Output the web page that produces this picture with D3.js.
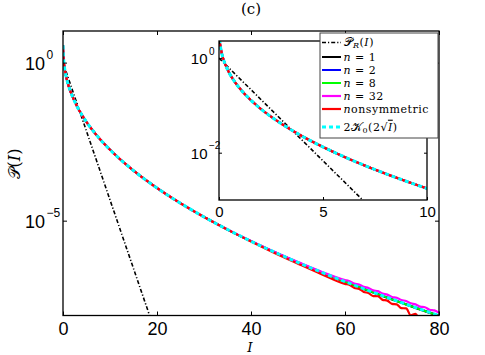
<!DOCTYPE html>
<html>
<head>
<meta charset="utf-8">
<script src="https://cdn.jsdelivr.net/npm/d3@7/dist/d3.min.js"></script>
<style>
  body { margin: 0; background: #fff; }
</style>
</head>
<body>
<svg id="chart" width="485" height="355"></svg>
<script>
// values (log scale, so read as decades)
const intensity = [0.01, 0.02, 0.05, 0.1, 0.2, 0.3, 0.5, 0.75, 1, 1.5, 2, 3, 4, 5, 6, 7, 8, 9, 10,
    12, 15, 20, 25, 30, 35, 40, 45, 50, 55, 60, 65, 70, 75, 80];
const kDist = [3.51, 2.85, 2.03, 1.48, 0.98, 0.736, 0.479, 0.318, 0.228, 0.133, 0.085, 0.0409, 0.0223,
    0.0132, 0.00825, 0.00537, 0.00361, 0.00249, 0.00175, 9.18e-4, 3.84e-4, 1.08e-4, 3.56e-5, 1.31e-5,
    5.24e-6, 2.24e-6, 1.01e-6, 4.77e-7, 2.33e-7, 1.18e-7, 6.15e-8, 3.29e-8, 1.79e-8, 1.0e-8];
const nOne = [3.51, 2.85, 2.03, 1.48, 0.98, 0.736, 0.479, 0.318, 0.228, 0.133, 0.085, 0.0409, 0.0223,
    0.0132, 0.00825, 0.00537, 0.00361, 0.00249, 0.00175, 9.18e-4, 3.84e-4, 1.08e-4, 3.56e-5, 1.31e-5,
    5.24e-6, 2.24e-6, 1.0e-6, 4.7e-7, 2.3e-7, 1.16e-7, 6.0e-8, 3.2e-8, 1.72e-8, 9.5e-9];
const nTwo = [3.51, 2.85, 2.03, 1.48, 0.98, 0.736, 0.479, 0.318, 0.228, 0.133, 0.085, 0.0409, 0.0223,
    0.0132, 0.00825, 0.00537, 0.00361, 0.00249, 0.00175, 9.18e-4, 3.84e-4, 1.08e-4, 3.56e-5, 1.31e-5,
    5.24e-6, 2.24e-6, 1.02e-6, 4.8e-7, 2.35e-7, 1.19e-7, 6.2e-8, 3.3e-8, 1.8e-8, 1.0e-8];
const nEight = [3.51, 2.85, 2.03, 1.48, 0.98, 0.736, 0.479, 0.318, 0.228, 0.133, 0.085, 0.0409, 0.0223,
    0.0132, 0.00825, 0.00537, 0.00361, 0.00249, 0.00175, 9.18e-4, 3.84e-4, 1.08e-4, 3.56e-5, 1.31e-5,
    5.24e-6, 2.24e-6, 1.01e-6, 4.75e-7, 2.32e-7, 1.17e-7, 6.1e-8, 3.25e-8, 1.76e-8, 9.8e-9];
// n = 32 and nonsymmetric up to I = 55, then the noisy tail below
const nThirtyTwo = [3.51, 2.85, 2.03, 1.48, 0.98, 0.736, 0.479, 0.318, 0.228, 0.133, 0.085, 0.0409,
    0.0223, 0.0132, 0.00825, 0.00537, 0.00361, 0.00249, 0.00175, 9.18e-4, 3.84e-4, 1.08e-4, 3.56e-5,
    1.31e-5, 5.26e-6, 2.26e-6, 1.02e-6, 4.9e-7, 2.42e-7];
const nonsym = [3.51, 2.85, 2.03, 1.48, 0.98, 0.736, 0.479, 0.318, 0.228, 0.133, 0.085, 0.0409,
    0.0223, 0.0132, 0.00825, 0.00537, 0.00361, 0.00249, 0.00175, 9.18e-4, 3.84e-4, 1.08e-4, 3.56e-5,
    1.3e-5, 5.2e-6, 2.19e-6, 9.5e-7, 4.35e-7, 2.03e-7];
const tailIntensity = [60, 61, 62, 63, 64, 65, 66, 67, 68, 69, 70, 71, 72, 73, 74, 75, 76, 77, 78, 79, 80];
const nThirtyTwoTail = [1.32e-7, 1.22e-7, 1.02e-7, 9.6e-8, 8.05e-8, 7.4e-8, 6.24e-8, 5.89e-8, 4.97e-8,
    4.58e-8, 3.86e-8, 3.66e-8, 3.1e-8, 2.88e-8, 2.43e-8, 2.25e-8, 1.91e-8, 1.83e-8, 1.52e-8, 1.45e-8, 1.23e-8];
const nonsymTail = [1.0e-7, 9.2e-8, 7.4e-8, 6.95e-8, 5.56e-8, 5.12e-8, 4.12e-8, 4.07e-8, 3.13e-8,
    2.96e-8, 2.33e-8, 2.26e-8, 1.7e-8, 1.69e-8, 1.01e-8, 1.13e-8, 7.1e-9, 8.0e-9, 4.5e-9, 5.0e-9, 3.2e-9];
const rayleighIntensity = [0, 5, 10, 15, 20];
const rayleigh = [1, 6.74e-3, 4.54e-5, 3.06e-7, 2.06e-9];

const mainXTicks = [0, 20, 40, 60, 80];
const mainYTicks = [1, 1e-5];
const insetXTicks = [0, 5, 10];
const insetYTicks = [1, 1e-2];
const legendLabels = ["PR", "n = 1", "n = 2", "n = 8", "n = 32", "nonsymmetric", "K0"];

const svg = d3.select("#chart");
const serif = "'DejaVu Serif', serif";
const sans = "'Liberation Sans', Arial, sans-serif";

const pairs = (xs, ys) => xs.map((x, i) => [x, ys[i]]);

const series = [
    { data: pairs(rayleighIntensity, rayleigh), color: "#000", width: 1.6, dash: "4,2,1.2,2", linear: true },
    { data: pairs(intensity, nOne), color: "#000", width: 2 },
    { data: pairs(intensity, nTwo), color: "#00f", width: 2 },
    { data: pairs(intensity, nEight), color: "#0f0", width: 2 },
    { data: pairs(intensity.slice(0, nThirtyTwo.length), nThirtyTwo).concat(pairs(tailIntensity, nThirtyTwoTail)), color: "#f0f", width: 2.2 },
    { data: pairs(intensity.slice(0, nonsym.length), nonsym).concat(pairs(tailIntensity, nonsymTail)), color: "#f00", width: 2.2 },
    { data: pairs(intensity, kDist), color: "#0ff", width: 3, dash: "4,3" }
];

function drawPanel(cfg) {
    let x = d3.scaleLinear().domain(cfg.xDomain).range([cfg.left, cfg.right]);
    let y = d3.scaleLog().domain(cfg.yDomain).range([cfg.bottom, cfg.top]);
    let g = svg.append("g");

    g.append("rect")
        .attr("x", cfg.left).attr("y", cfg.top)
        .attr("width", cfg.right - cfg.left).attr("height", cfg.bottom - cfg.top)
        .attr("fill", "#fff");

    let clipId = "clip-" + cfg.name;
    g.append("clipPath").attr("id", clipId)
        .append("rect")
        .attr("x", cfg.left).attr("y", cfg.top)
        .attr("width", cfg.right - cfg.left).attr("height", cfg.bottom - cfg.top);

    let curves = g.append("g").attr("clip-path", "url(#" + clipId + ")");
    series.forEach(s => {
        let line = d3.line()
            .x(d => x(d[0]))
            .y(d => y(d[1]))
            .curve(s.linear ? d3.curveLinear : d3.curveMonotoneX);
        curves.append("path")
            .attr("d", line(s.data.filter(d => d[0] <= cfg.xDomain[1] + 5)))
            .attr("fill", "none")
            .attr("stroke", s.color)
            .attr("stroke-width", s.width)
            .attr("stroke-dasharray", s.dash || null);
    });

    // ticks pointing inward on all four sides
    let t = cfg.tick;
    g.append("g").attr("transform", "translate(0," + cfg.bottom + ")")
        .call(d3.axisBottom(x).tickValues(cfg.xTicks).tickSizeInner(-t).tickSizeOuter(0).tickPadding(cfg.xPad))
        .call(a => a.select(".domain").remove())
        .call(a => a.selectAll("text").attr("font-family", sans).attr("font-size", cfg.font).attr("fill", "#000"));
    g.append("g").attr("transform", "translate(0," + cfg.top + ")")
        .call(d3.axisTop(x).tickValues(cfg.xTicks).tickSizeInner(-t).tickSizeOuter(0).tickFormat(""))
        .call(a => a.select(".domain").remove());
    let yl = g.append("g").attr("transform", "translate(" + cfg.left + ",0)")
        .call(d3.axisLeft(y).tickValues(cfg.yTicks).tickSizeInner(-t).tickSizeOuter(0).tickFormat(""))
        .call(a => a.select(".domain").remove());
    g.append("g").attr("transform", "translate(" + cfg.right + ",0)")
        .call(d3.axisRight(y).tickValues(cfg.yTicks).tickSizeInner(-t).tickSizeOuter(0).tickFormat(""))
        .call(a => a.select(".domain").remove());
    g.selectAll(".tick line").attr("stroke", "#000").attr("stroke-width", 1);

    // 10^k labels: base right-aligned, exponent raised after it
    yl.selectAll(".tick").each(function(v) {
        let e = Math.round(Math.log10(v));
        let label = d3.select(this).append("text")
            .attr("font-family", sans).attr("font-size", cfg.font).attr("fill", "#000")
            .attr("text-anchor", "start").attr("dy", "0.36em")
            .text("10");
        let w = label.node().getComputedTextLength();
        label.attr("x", -cfg.baseGap - w).text(null);
        label.append("tspan").text("10");
        label.append("tspan")
            .attr("font-size", cfg.expFont)
            .attr("dx", 1.5)
            .attr("dy", -(0.36 * cfg.font + cfg.expRise))
            .text(e < 0 ? "\u2212" + (-e) : String(e));
    });

    g.append("rect")
        .attr("x", cfg.left).attr("y", cfg.top)
        .attr("width", cfg.right - cfg.left).attr("height", cfg.bottom - cfg.top)
        .attr("fill", "none").attr("stroke", "#000").attr("stroke-width", 1.3);
}

drawPanel({
    name: "main", xDomain: [0, 80], yDomain: [1e-8, 10],
    left: 63, right: 439, top: 31, bottom: 315.5,
    xTicks: mainXTicks, yTicks: mainYTicks,
    tick: 4, xPad: 7, font: 18, expFont: 12, baseGap: 18, expRise: 4
});

drawPanel({
    name: "inset", xDomain: [0, 10], yDomain: [1e-3, 2.3],
    left: 219, right: 427, top: 41, bottom: 200,
    xTicks: insetXTicks, yTicks: insetYTicks,
    tick: 3, xPad: 6, font: 15, expFont: 10, baseGap: 11.5, expRise: 4
});

// title and axis labels
svg.append("text").attr("x", 251).attr("y", 14).attr("text-anchor", "middle")
    .attr("font-family", serif).attr("font-size", 15).text("(c)");
svg.append("text").attr("x", 250).attr("y", 351.6).attr("text-anchor", "middle")
    .attr("font-family", serif).attr("font-style", "italic").attr("font-size", 13.5).text("I");
let ylab = svg.append("text")
    .attr("transform", "translate(20,164) rotate(-90)")
    .attr("text-anchor", "middle")
    .attr("font-family", serif).attr("font-size", 16);
ylab.append("tspan").text("\u{1D4AB}");
ylab.append("tspan").text("(");
ylab.append("tspan").attr("font-style", "italic").text("I");
ylab.append("tspan").text(")");

// legend
let legend = svg.append("g");
legend.append("rect")
    .attr("x", 320).attr("y", 33).attr("width", 118).attr("height", 105)
    .attr("fill", "#fff").attr("stroke", "#444").attr("stroke-width", 1);

const rowY = [42.5, 57, 70, 83, 96, 109, 127];
legendLabels.forEach((label, i) => {
    let s = series[i];
    legend.append("line")
        .attr("x1", 322).attr("x2", 341).attr("y1", rowY[i]).attr("y2", rowY[i])
        .attr("stroke", s.color).attr("stroke-width", s.width)
        .attr("stroke-dasharray", s.dash || null);
    let txt = legend.append("text")
        .attr("x", 343.5).attr("y", rowY[i] + 3.7)
        .attr("font-family", serif).attr("font-size", 11)
        .attr("letter-spacing", 0.5);
    if (label === "PR") {
        txt.append("tspan").attr("font-size", 12).text("\u{1D4AB}");
        txt.append("tspan").attr("font-style", "italic").attr("font-size", 8).attr("dy", 1.5).text("R");
        txt.append("tspan").attr("dy", -1.5).text("(");
        txt.append("tspan").attr("font-style", "italic").text("I");
        txt.append("tspan").text(")");
    } else if (label === "K0") {
        txt.append("tspan").text("2");
        txt.append("tspan").attr("font-size", 12).text("\u{1D4A6}");
        txt.append("tspan").attr("font-size", 8).attr("dy", 2).text("0");
        txt.append("tspan").attr("dy", -2).text("(2\u221A");
        txt.append("tspan").attr("font-style", "italic").style("text-decoration", "overline").text("I");
        txt.append("tspan").text(")");
    } else if (label.startsWith("n")) {
        txt.append("tspan").attr("font-style", "italic").text("n");
        txt.append("tspan").text(label.slice(1));
    } else {
        txt.text(label);
    }
});
</script>
</body>
</html>
